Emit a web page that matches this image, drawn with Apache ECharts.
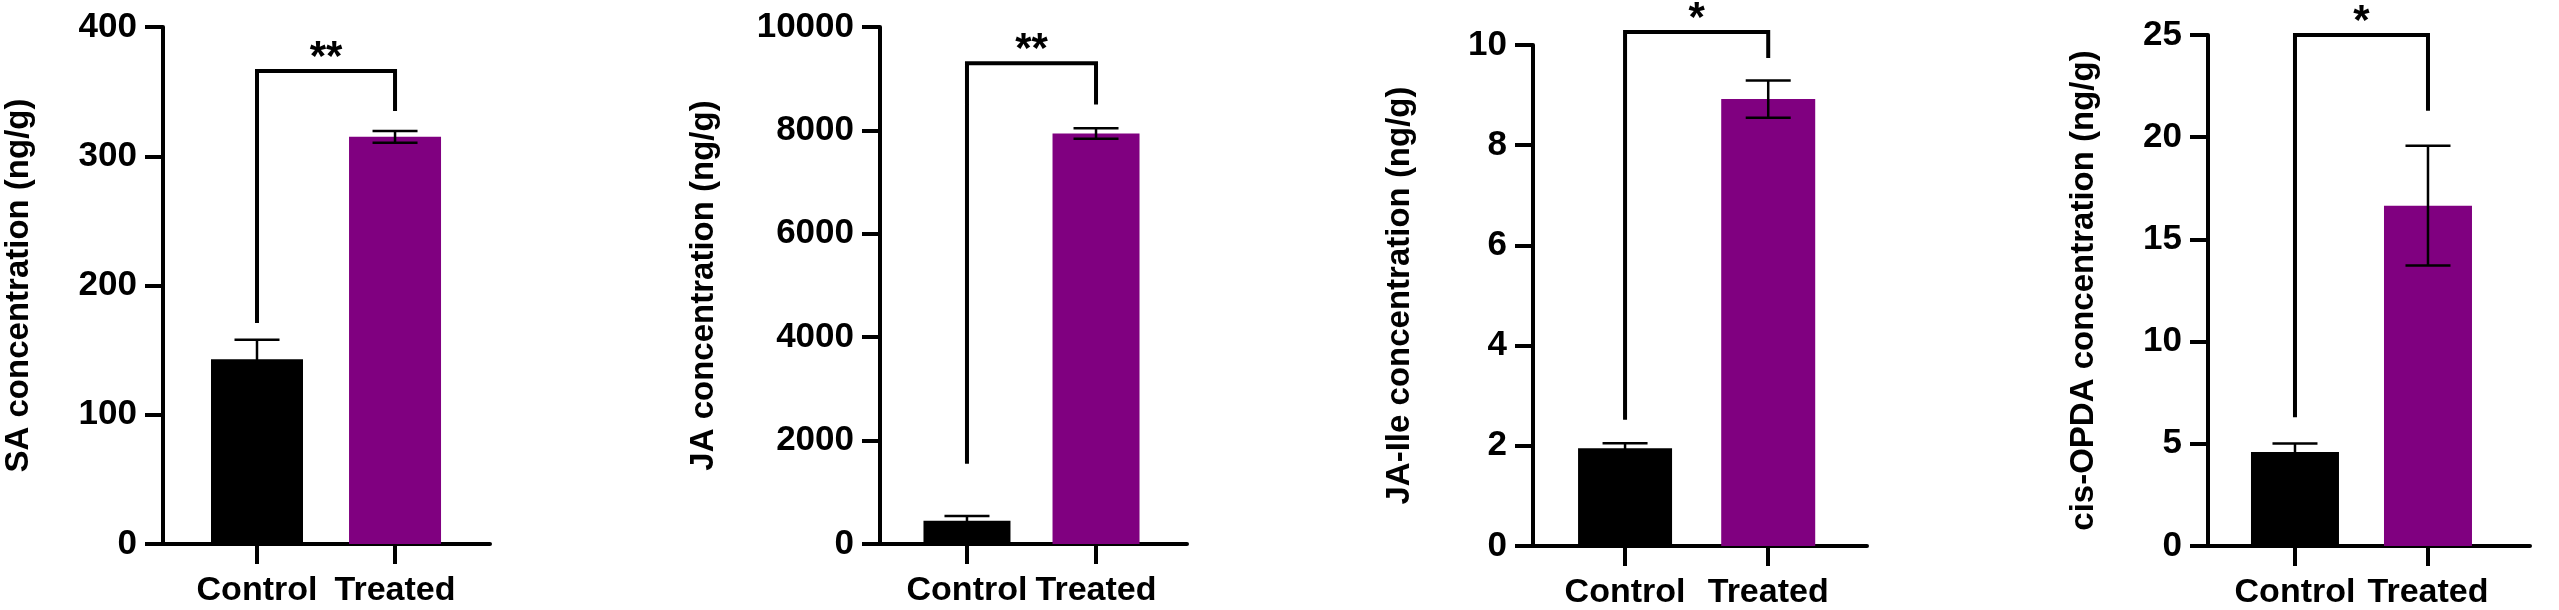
<!DOCTYPE html>
<html>
<head>
<meta charset="utf-8">
<title>Hormone concentrations</title>
<script src="https://cdn.jsdelivr.net/npm/echarts@6/dist/echarts.min.js"></script>
<style>
  html, body { margin: 0; padding: 0; background: #fff; }
  #main { width: 2559px; height: 610px; }
</style>
</head>
<body>
<div id="main"></div>
<script>
// data
var categories = ['Control', 'Treated'];
var barColors = ['#000000', '#800080'];

var titles = ['SA concentration (ng/g)', 'JA concentration (ng/g)', 'JA-Ile concentration (ng/g)', 'cis-OPDA concentration (ng/g)'];

var saMean = [143, 315];
var saErr = [15, 4.5];
var jaMean = [450, 7940];
var jaErr = [90, 100];
var jaIleMean = [1.95, 8.92];
var jaIleErr = [0.1, 0.37];
var opdaMean = [4.6, 16.65];
var opdaErr = [0.42, 2.93];

// y axis ticks
var yMax = [400, 10000, 10, 25];
var yStep = [100, 2000, 2, 5];

// significance brackets: [top, left leg end, right leg end]
var saBracket = [366, 171, 335];
var jaBracket = [9300, 1550, 8500];
var jaIleBracket = [10.26, 2.52, 9.74];
var opdaBracket = [25, 6.3, 21.3];
var stars = ['**', '**', '*', '*'];

var means = [saMean, jaMean, jaIleMean, opdaMean];
var errs = [saErr, jaErr, jaIleErr, opdaErr];
var brackets = [saBracket, jaBracket, jaIleBracket, opdaBracket];

// layout of each panel (pixels)
var layout = [
    { left: 163, width: 327, top: 27, height: 517, xMin: -0.681, xMax: 1.688, barW: 92, nameGap: 128 },
    { left: 880, width: 307, top: 27, height: 517, xMin: -0.674, xMax: 1.705, barW: 87, nameGap: 160 },
    { left: 1533, width: 334, top: 45, height: 503, xMin: -0.643, xMax: 1.69, barW: 94, nameGap: 117 },
    { left: 2208, width: 322, top: 35, height: 511, xMin: -0.654, xMax: 1.767, barW: 88, nameGap: 108 }
];

var FONT = 'Arial, "Liberation Sans", Helvetica, sans-serif';
var AXIS_W = 4;
var CAP = 45;

function renderErr(params, api) {
    var x = api.value(0);
    var top = api.coord([x, api.value(2)]);
    var bot = api.coord([x, api.value(1)]);
    var st = { stroke: '#000', lineWidth: 2.5 };
    var h = CAP / 2;
    return {
        type: 'group',
        children: [
            { type: 'line', shape: { x1: top[0], y1: top[1], x2: bot[0], y2: bot[1] }, style: st },
            { type: 'line', shape: { x1: top[0] - h, y1: top[1], x2: top[0] + h, y2: top[1] }, style: st },
            { type: 'line', shape: { x1: bot[0] - h, y1: bot[1], x2: bot[0] + h, y2: bot[1] }, style: st }
        ]
    };
}

function makeRenderBracket(star) {
    return function (params, api) {
        var x0 = api.value(0), x1 = api.value(1);
        var pTop0 = api.coord([x0, api.value(2)]);
        var pTop1 = api.coord([x1, api.value(2)]);
        var pL = api.coord([x0, api.value(3)]);
        var pR = api.coord([x1, api.value(4)]);
        return {
            type: 'group',
            children: [
                {
                    type: 'polyline',
                    shape: { points: [pL, pTop0, pTop1, pR] },
                    style: { stroke: '#000', lineWidth: 4, fill: null, lineJoin: 'miter' }
                },
                {
                    type: 'text',
                    x: (pTop0[0] + pTop1[0]) / 2,
                    y: pTop0[1] - 13,
                    style: {
                        text: star,
                        font: 'bold 42px ' + FONT,
                        fill: '#000',
                        textAlign: 'center',
                        textVerticalAlign: 'middle'
                    }
                }
            ]
        };
    };
}

var grids = [], xAxes = [], yAxes = [], series = [];

layout.forEach(function (L, i) {
    grids.push({ left: L.left, top: L.top, width: L.width, height: L.height, containLabel: false });

    xAxes.push({
        type: 'value',
        gridIndex: i,
        min: L.xMin,
        max: L.xMax,
        splitLine: { show: false },
        axisLine: { onZero: false, lineStyle: { color: '#000', width: AXIS_W } },
        axisTick: { show: true, customValues: [0, 1], length: 20, lineStyle: { color: '#000', width: AXIS_W } },
        axisLabel: {
            customValues: [0, 1],
            margin: 30,
            formatter: function (v) { return categories[Math.round(v)]; },
            color: '#000',
            fontFamily: FONT,
            fontWeight: 'bold',
            fontSize: 34
        }
    });

    yAxes.push({
        type: 'value',
        gridIndex: i,
        min: 0,
        max: yMax[i],
        interval: yStep[i],
        name: titles[i],
        nameLocation: 'middle',
        nameRotate: 90,
        nameGap: L.nameGap,
        nameTextStyle: { color: '#000', fontFamily: FONT, fontWeight: 'bold', fontSize: 33 },
        splitLine: { show: false },
        axisLine: { show: true, onZero: false, lineStyle: { color: '#000', width: AXIS_W } },
        axisTick: { show: true, length: 18, lineStyle: { color: '#000', width: AXIS_W } },
        axisLabel: {
            margin: 26,
            formatter: function (v) { return String(v); },
            color: '#000',
            fontFamily: FONT,
            fontWeight: 'bold',
            fontSize: 35
        }
    });

    series.push({
        type: 'bar',
        xAxisIndex: i,
        yAxisIndex: i,
        barWidth: L.barW,
        z: 2,
        data: means[i].map(function (v, k) {
            return { value: [k, v], itemStyle: { color: barColors[k] } };
        })
    });

    series.push({
        type: 'custom',
        xAxisIndex: i,
        yAxisIndex: i,
        z: 3,
        encode: { x: 0, y: [1, 2] },
        renderItem: renderErr,
        data: means[i].map(function (v, k) {
            return [k, v - errs[i][k], v + errs[i][k]];
        })
    });

    series.push({
        type: 'custom',
        xAxisIndex: i,
        yAxisIndex: i,
        z: 4,
        clip: false,
        encode: { x: [0, 1], y: [2, 3, 4] },
        renderItem: makeRenderBracket(stars[i]),
        data: [[0, 1, brackets[i][0], brackets[i][1], brackets[i][2]]]
    });
});

var myChart = echarts.init(document.getElementById('main'), null, { renderer: 'canvas' });
myChart.setOption({
    backgroundColor: '#ffffff',
    animation: false,
    grid: grids,
    xAxis: xAxes,
    yAxis: yAxes,
    series: series
});
</script>
</body>
</html>
